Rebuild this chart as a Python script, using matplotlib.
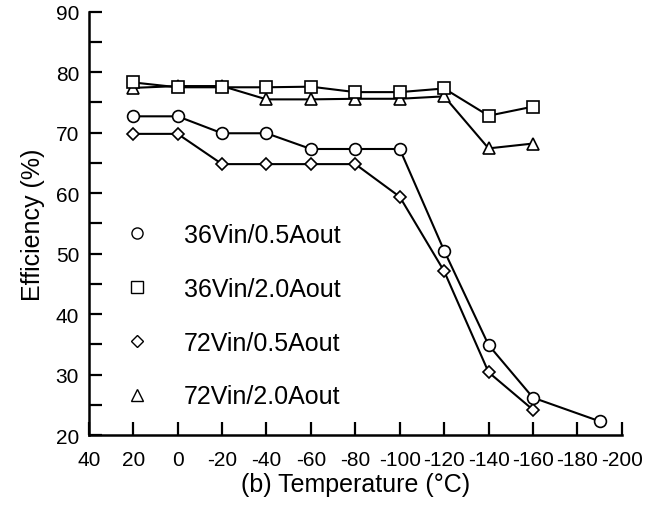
import matplotlib
matplotlib.use('Agg')
import matplotlib.pyplot as plt
from matplotlib.lines import Line2D
from matplotlib.ticker import MultipleLocator

plt.rcParams['font.family'] = ['Liberation Sans', 'DejaVu Sans']
plt.rcParams['axes.unicode_minus'] = False

# данные
temp = [20, 0, -20, -40, -60, -80, -100, -120, -140, -160]
temp_c1 = [20, 0, -20, -40, -60, -80, -100, -120, -140, -160, -190]

eff_36_05 = [72.7, 72.7, 69.9, 69.9, 67.3, 67.3, 67.3, 50.5, 34.9, 26.2, 22.3]
eff_36_20 = [78.3, 77.5, 77.5, 77.5, 77.6, 76.7, 76.7, 77.3, 72.8, 74.3]
eff_72_05 = [69.8, 69.8, 64.8, 64.8, 64.8, 64.8, 59.4, 47.1, 30.4, 24.2]
eff_72_20 = [77.4, 77.7, 77.7, 75.5, 75.5, 75.6, 75.6, 76.0, 67.4, 68.2]

labels = ['36Vin/0.5Aout', '36Vin/2.0Aout', '72Vin/0.5Aout', '72Vin/2.0Aout']
markers = ['o', 's', 'D', '^']

fig = plt.figure(figsize=(6.58, 5.06), dpi=100)
ax = fig.add_axes([0.135, 0.138, 0.81, 0.837])

style = dict(color='black', lw=1.5, mfc='white', mec='black', mew=1.2)
ax.plot(temp, eff_72_05, marker='D', ms=6, **style)
ax.plot(temp_c1, eff_36_05, marker='o', ms=8.5, **style)
ax.plot(temp, eff_72_20, marker='^', ms=8, **style)
ax.plot(temp, eff_36_20, marker='s', ms=8, **style)

ax.set_xlim(40, -200)
ax.set_ylim(20, 90)
ax.xaxis.set_major_locator(MultipleLocator(20))
ax.yaxis.set_major_locator(MultipleLocator(10))
ax.yaxis.set_minor_locator(MultipleLocator(5))

for s in ['top', 'right']:
    ax.spines[s].set_visible(False)
for s in ['left', 'bottom']:
    ax.spines[s].set_linewidth(1.8)

ax.tick_params(which='both', direction='in', length=9.5, width=1.6, labelsize=15)
ax.tick_params(axis='y', pad=7)
ax.tick_params(axis='x', pad=11)

ax.set_xlabel('(b) Temperature (°C)', fontsize=18, labelpad=2)
ax.set_ylabel('Efficiency (%)', fontsize=18, labelpad=8)

handles = [Line2D([], [], ls='none', marker=m, ms=8 if m != 'D' else 6,
                  mfc='white', mec='black', mew=1.0) for m in markers]
ax.legend(handles, labels, loc='center left', bbox_to_anchor=(0.024, 0.282),
          frameon=False, fontsize=18, handlelength=1.0, handletextpad=1.4,
          labelspacing=1.19, numpoints=1)

fig.savefig('out.png', dpi=100)
